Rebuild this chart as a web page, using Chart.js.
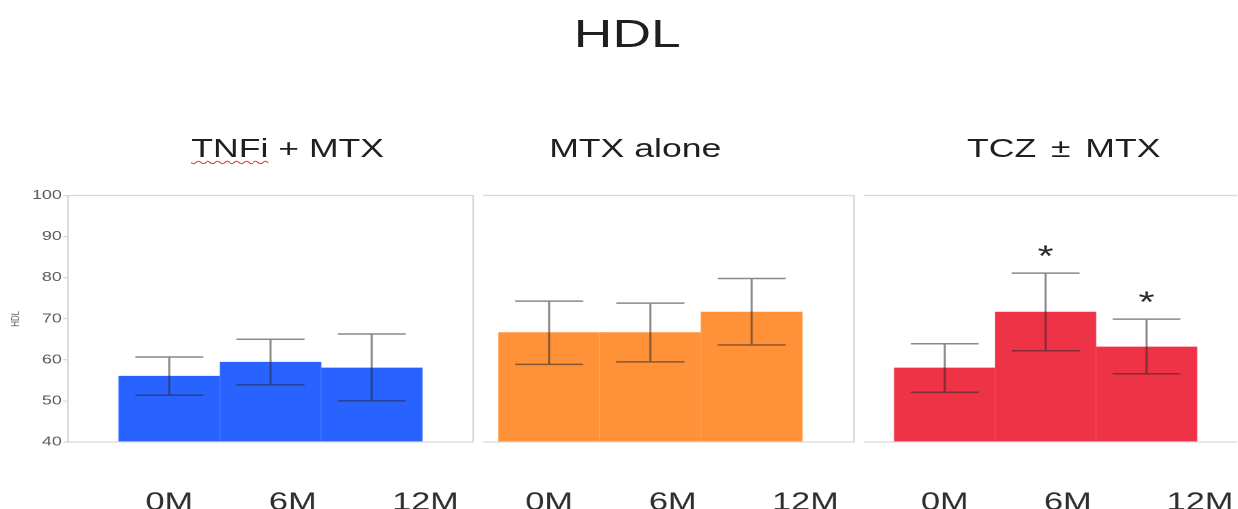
<!DOCTYPE html>
<html>
<head>
<meta charset="utf-8">
<title>HDL</title>
<script src="https://cdn.jsdelivr.net/npm/chart.js@4.4.1/dist/chart.umd.min.js"></script>
<style>
  html, body { margin: 0; padding: 0; background: #fff; overflow: hidden; }
  /* the figure is laid out on a 904px-wide stage and widened to the page */
  #stage {
    position: absolute; left: 0; top: 0; width: 904px; height: 509px;
    transform: scaleX(1.369469); transform-origin: 0 0;
    font-family: "Liberation Sans", Arial, sans-serif;
  }
  #stage canvas { position: absolute; left: 0; top: 0; }
  .t { position: absolute; white-space: nowrap; line-height: 1; color: #1f1f1f; }
  .spell { text-decoration: underline wavy #e0393e; text-decoration-thickness: 1px; text-underline-offset: 3px; }
</style>
</head>
<body>
<div id="stage">
  <div class="t" id="mainTitle" style="left:419px; top:14px; font-size:39px;"></div>
  <div class="t" id="title0" style="left:139.6px; top:134.6px; font-size:26px;"></div>
  <div class="t" id="title1" style="left:401px; top:134.6px; font-size:26px;"></div>
  <div class="t" id="title2" style="left:706.2px; top:134.6px; font-size:26px; word-spacing:3.5px;"></div>
  <canvas id="c0" width="904" height="509"></canvas>
  <canvas id="c1" width="904" height="509"></canvas>
  <canvas id="c2" width="904" height="509"></canvas>
</div>
<script>
// ---- data ----
const figureTitle = 'HDL';
const groups = ['TNFi + MTX', 'MTX alone', 'TCZ \u00B1 MTX'];
const periods = ['0M', '6M', '12M'];

const tnfMean = [56.1, 59.5, 58.1];
const tnfLow  = [51.4, 53.9, 50.0];
const tnfHigh = [60.7, 65.0, 66.3];

const mtxMean = [66.7, 66.7, 71.7];
const mtxLow  = [58.9, 59.5, 63.6];
const mtxHigh = [74.3, 73.8, 79.8];

const tczMean = [58.1, 71.7, 63.2];
const tczLow  = [52.1, 62.2, 56.6];
const tczHigh = [63.9, 81.1, 69.9];
const tczSignif = ['', '*', '*'];

const yTicks = [40, 50, 60, 70, 80, 90, 100];

// ---- titles ----
document.getElementById('mainTitle').textContent = figureTitle;
groups.forEach((g, i) => {
  const el = document.getElementById('title' + i);
  if (i === 0) {
    const [first, ...rest] = g.split(' ');
    const s = document.createElement('span');
    s.className = 'spell';
    s.textContent = first;
    el.appendChild(s);
    el.appendChild(document.createTextNode(' ' + rest.join(' ')));
  } else {
    el.textContent = g;
  }
});

// ---- drawing helpers ----
const FONT = '"Liberation Sans", Arial, sans-serif';
const FRAME = '#d9d9d9';
const tickSlots = [0, 1.22, 2.53];   // where the period labels sit on the x scale

function extras(p) {
  return {
    id: 'extras',
    afterDatasetsDraw(chart) {
      const { ctx, chartArea: a, scales: { y } } = chart;
      const bars = chart.getDatasetMeta(0).data;
      ctx.save();
      // panel frame
      ctx.strokeStyle = FRAME;
      ctx.lineWidth = 1.3;
      ctx.beginPath();
      ctx.moveTo(a.left, a.top); ctx.lineTo(a.right, a.top);
      if (p.rightEdge) { ctx.lineTo(a.right, a.bottom); } else { ctx.moveTo(a.right, a.bottom); }
      ctx.lineTo(a.left, a.bottom);
      ctx.stroke();
      // error bars
      ctx.strokeStyle = 'rgba(40,40,40,0.55)';
      ctx.lineWidth = 1.5;
      ctx.beginPath();
      bars.forEach((bar, i) => {
        const top = y.getPixelForValue(p.high[i]);
        const bot = y.getPixelForValue(p.low[i]);
        const half = bar.width * 0.336;
        ctx.moveTo(bar.x, top); ctx.lineTo(bar.x, bot);
        ctx.moveTo(bar.x - half, top); ctx.lineTo(bar.x + half, top);
        ctx.moveTo(bar.x - half, bot); ctx.lineTo(bar.x + half, bot);
      });
      ctx.stroke();
      // significance marks
      if (p.signif) {
        ctx.fillStyle = '#2a2a2a';
        ctx.font = '30px ' + FONT;
        ctx.textAlign = 'center';
        ctx.textBaseline = 'alphabetic';
        bars.forEach((bar, i) => {
          if (!p.signif[i]) return;
          const cy = y.getPixelForValue(p.high[i]) - 24;
          ctx.fillText(p.signif[i], bar.x, cy + 17);
        });
      }
      ctx.restore();
    }
  };
}

function panel(id, p) {
  return new Chart(document.getElementById(id), {
    type: 'bar',
    data: {
      datasets: [{
        data: p.mean.map((v, i) => ({ x: i, y: v })),
        backgroundColor: p.color,
        borderColor: p.edge,
        borderWidth: { left: 0.6, right: 0.6, top: 0, bottom: 0 },
        borderSkipped: false,
        barPercentage: 1,
        categoryPercentage: 1
      }]
    },
    options: {
      responsive: false,
      animation: false,
      devicePixelRatio: 2,
      layout: { padding: { left: p.padLeft, right: p.padRight, top: 195.5, bottom: 0 } },
      plugins: { legend: { display: false }, tooltip: { enabled: false } },
      scales: {
        x: {
          type: 'linear',
          min: p.xMin, max: p.xMax,
          offset: false,
          grid: { display: false, offset: false },
          border: { display: false },
          afterBuildTicks: s => { s.ticks = tickSlots.map(v => ({ value: v })); },
          afterFit: s => { s.height = 67; s.paddingLeft = 0; s.paddingRight = 0; },
          ticks: {
            autoSkip: false, maxRotation: 0, minRotation: 0,
            padding: 38, color: '#2e2e2e',
            font: { family: FONT, size: 25 },
            callback: (v, i) => periods[i]
          }
        },
        y: {
          display: p.showY,
          min: 40, max: 100,
          afterBuildTicks: s => { s.ticks = yTicks.map(v => ({ value: v })); },
          afterFit: s => { s.width = p.showY ? 49.65 : 0; },
          grid: { display: true, drawOnChartArea: false, drawTicks: true, tickLength: 3.6, color: FRAME, lineWidth: 1.3 },
          border: { display: true, color: FRAME, width: 1.3 },
          ticks: { padding: 1, color: '#595959', font: { family: FONT, size: 13 } },
          title: { display: true, text: figureTitle, color: '#595959', font: { family: FONT, size: 8 }, padding: { top: 6.9, bottom: 0 } }
        }
      }
    },
    plugins: [extras(p)]
  });
}

panel('c0', {
  mean: tnfMean, low: tnfLow, high: tnfHigh,
  color: '#2963FF', edge: '#4a7bff',
  padLeft: 0, padRight: 904 - 345.4, xMin: -1.0, xMax: 3.0,
  showY: true, rightEdge: true
});
panel('c1', {
  mean: mtxMean, low: mtxLow, high: mtxHigh,
  color: '#FF9138', edge: '#ffa255',
  padLeft: 352.7, padRight: 904 - 623.6, xMin: -0.652, xMax: 3.01,
  showY: false, rightEdge: true
});
panel('c2', {
  mean: tczMean, low: tczLow, high: tczHigh, signif: tczSignif,
  color: '#EE3347', edge: '#f25263',
  padLeft: 630.9, padRight: 0.5, xMin: -0.8, xMax: 2.9,
  showY: false, rightEdge: false
});
</script>
</body>
</html>
